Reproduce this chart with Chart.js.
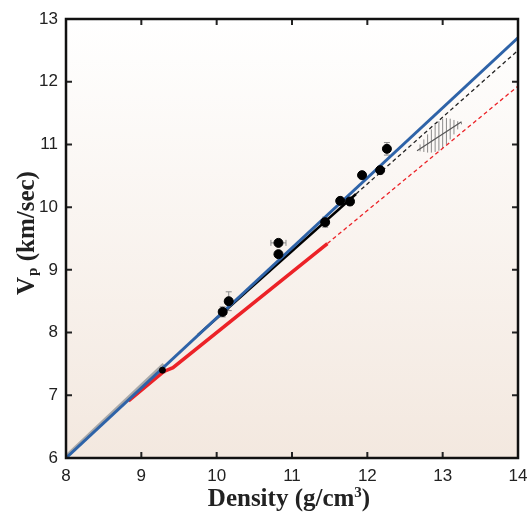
<!DOCTYPE html>
<html>
<head>
<meta charset="utf-8">
<script src="https://cdn.jsdelivr.net/npm/chart.js@4/dist/chart.umd.min.js"></script>
<style>
  html, body { margin: 0; padding: 0; background: #fff; }
  #wrap { width: 532px; height: 513px; }
</style>
</head>
<body>
<div id="wrap"><canvas id="vpChart"></canvas></div>
<script>
// axis ticks
const xTicks = [8, 9, 10, 11, 12, 13, 14];
const yTicks = [6, 7, 8, 9, 10, 11, 12, 13];

// measured points (density, Vp) with error bars
const pointX = [9.28, 10.08, 10.16, 10.82, 10.82, 11.44, 11.64, 11.77, 11.93, 12.17, 12.26];
const pointY = [7.40, 8.33, 8.50, 9.43, 9.25, 9.76, 10.10, 10.09, 10.51, 10.59, 10.93];
const pointXErr = [0.03, 0.05, 0.04, 0.10, 0.04, 0.04, 0.04, 0.04, 0.03, 0.04, 0.04];
const pointYErr = [0.04, 0.08, 0.15, 0.05, 0.05, 0.08, 0.05, 0.06, 0.05, 0.06, 0.10];
const pointSize = [3, 4.5, 4.5, 4.5, 4.5, 4.5, 4.5, 4.5, 4.5, 4.5, 4.5];

// fitted lines
const blueX = [8, 14];
const blueY = [6, 12.70];
const grayX = [8, 9.3];
const grayY = [6.02, 7.49];
const blackX = [9.75, 11.85];
const blackY = [7.96, 10.21];
const blackDashX = [11.85, 14];
const blackDashY = [10.21, 12.50];
const redX = [8.83, 9.30, 9.42, 11.47];
const redY = [6.91, 7.38, 7.44, 9.42];
const redDashX = [11.47, 14];
const redDashY = [9.42, 11.93];

// hatched region near 13 g/cm3
const hatchX = [12.70, 12.75, 12.80, 12.85, 12.90, 12.95, 13.00, 13.05, 13.10, 13.15, 13.20, 13.25];
const hatchLow = [10.89, 10.88, 10.87, 10.87, 10.88, 10.90, 10.94, 11.00, 11.08, 11.16, 11.24, 11.32];
const hatchHigh = [11.00, 11.08, 11.16, 11.24, 11.31, 11.37, 11.41, 11.42, 11.41, 11.39, 11.37, 11.35];
const hatchLineX = [12.66, 13.25];
const hatchLineY = [10.90, 11.36];

const pts = (xs, ys) => xs.map((x, i) => ({ x: x, y: ys[i] }));

const lineSet = (xs, ys, color, width, dash, order) => ({
    data: pts(xs, ys),
    showLine: true,
    borderColor: color,
    borderWidth: width,
    borderDash: dash,
    pointRadius: 0,
    fill: false,
    order: order
});

// draws a label with a raised/lowered small part, centred on 0
function drawRich(ctx, parts) {
    const widths = parts.map(p => { ctx.font = p.font; return ctx.measureText(p.text).width + (p.gap || 0); });
    let sx = -widths.reduce((a, b) => a + b, 0) / 2;
    parts.forEach((p, i) => {
        ctx.font = p.font;
        ctx.fillText(p.text, sx + (p.gap || 0), p.dy || 0);
        sx += widths[i];
    });
}

const framePlugin = {
    id: 'frame',
    beforeDraw(chart) {
        const { ctx, chartArea: a } = chart;
        const g = ctx.createLinearGradient(0, a.top, 0, a.bottom);
        g.addColorStop(0, '#ffffff');
        g.addColorStop(1, '#f3e8df');
        ctx.save();
        ctx.fillStyle = g;
        ctx.fillRect(a.left, a.top, a.right - a.left, a.bottom - a.top);
        ctx.restore();
    },
    beforeDatasetsDraw(chart) {
        const { ctx, scales: { x, y } } = chart;
        ctx.save();
        // hatch strokes
        ctx.strokeStyle = 'rgba(110,110,110,0.8)';
        ctx.lineWidth = 1;
        hatchX.forEach((hx, i) => {
            const px = x.getPixelForValue(hx);
            ctx.beginPath();
            ctx.moveTo(px, y.getPixelForValue(hatchLow[i]));
            ctx.lineTo(px, y.getPixelForValue(hatchHigh[i]));
            ctx.stroke();
        });
        // error bars
        ctx.strokeStyle = '#8a8a8a';
        ctx.lineWidth = 1;
        pointX.forEach((px0, i) => {
            const px = x.getPixelForValue(px0);
            const py = y.getPixelForValue(pointY[i]);
            const y1 = y.getPixelForValue(pointY[i] - pointYErr[i]);
            const y2 = y.getPixelForValue(pointY[i] + pointYErr[i]);
            const x1 = x.getPixelForValue(px0 - pointXErr[i]);
            const x2 = x.getPixelForValue(px0 + pointXErr[i]);
            ctx.beginPath();
            ctx.moveTo(px, y1); ctx.lineTo(px, y2);
            ctx.moveTo(px - 3, y1); ctx.lineTo(px + 3, y1);
            ctx.moveTo(px - 3, y2); ctx.lineTo(px + 3, y2);
            ctx.moveTo(x1, py); ctx.lineTo(x2, py);
            ctx.moveTo(x1, py - 3); ctx.lineTo(x1, py + 3);
            ctx.moveTo(x2, py - 3); ctx.lineTo(x2, py + 3);
            ctx.stroke();
        });
        ctx.restore();
    },
    afterDraw(chart) {
        const { ctx, chartArea: a, scales: { x, y } } = chart;
        ctx.save();
        // inward ticks on all four sides
        ctx.strokeStyle = '#222';
        ctx.lineWidth = 2;
        ctx.beginPath();
        xTicks.slice(1, -1).forEach(v => {
            const px = x.getPixelForValue(v);
            ctx.moveTo(px, a.bottom); ctx.lineTo(px, a.bottom - 6);
            ctx.moveTo(px, a.top); ctx.lineTo(px, a.top + 6);
        });
        yTicks.slice(1, -1).forEach(v => {
            const py = y.getPixelForValue(v);
            ctx.moveTo(a.left, py); ctx.lineTo(a.left + 6, py);
            ctx.moveTo(a.right, py); ctx.lineTo(a.right - 6, py);
        });
        ctx.stroke();
        // frame
        ctx.strokeStyle = '#111';
        ctx.lineWidth = 2.5;
        ctx.strokeRect(a.left, a.top, a.right - a.left, a.bottom - a.top);

        // axis titles
        ctx.fillStyle = '#222';
        ctx.textBaseline = 'alphabetic';
        ctx.textAlign = 'left';
        const big = 'bold 25px "Liberation Serif", "DejaVu Serif", serif';
        const small = 'bold 15px "Liberation Serif", "DejaVu Serif", serif';

        ctx.save();
        ctx.translate(289, 506);
        drawRich(ctx, [
            { text: 'Density (g/cm', font: big },
            { text: '3', font: small, dy: -9 },
            { text: ')', font: big }
        ]);
        ctx.restore();

        ctx.save();
        ctx.translate(34, 233);
        ctx.rotate(-Math.PI / 2);
        drawRich(ctx, [
            { text: 'V', font: big },
            { text: 'p', font: small, dy: 3, gap: 1 },
            { text: ' (km/sec)', font: big }
        ]);
        ctx.restore();
        ctx.restore();
    }
};

new Chart(document.getElementById('vpChart'), {
    type: 'scatter',
    data: {
        datasets: [
            {
                data: pts(pointX, pointY),
                pointRadius: pointSize,
                pointBackgroundColor: '#000',
                pointBorderColor: '#000',
                showLine: false,
                order: 0
            },
            lineSet(blueX, blueY, '#2e63a8', 3, [], 1),
            lineSet(blackX, blackY, '#000', 2.5, [], 2),
            lineSet(blackDashX, blackDashY, '#222', 1.3, [4, 3], 2),
            lineSet(redX, redY, '#ec2227', 3.5, [], 3),
            lineSet(redDashX, redDashY, '#ec2227', 1.3, [4, 3], 3),
            lineSet(grayX, grayY, '#a9a9a9', 4, [], 4),
            lineSet(hatchLineX, hatchLineY, '#555', 1.2, [], 5)
        ]
    },
    options: {
        responsive: true,
        maintainAspectRatio: false,
        animation: false,
        layout: { padding: { top: 19, right: 14, left: 0, bottom: 0 } },
        plugins: {
            legend: { display: false },
            tooltip: { enabled: false }
        },
        scales: {
            x: {
                type: 'linear',
                min: 8,
                max: 14,
                afterBuildTicks: s => { s.ticks = xTicks.map(v => ({ value: v })); },
                afterFit: s => { s.height = 55; s.paddingLeft = 0; s.paddingRight = 0; },
                grid: { display: false, drawTicks: false },
                border: { display: false },
                ticks: {
                    color: '#222',
                    padding: 8,
                    maxRotation: 0,
                    font: { family: '"Liberation Sans", Arial, sans-serif', size: 17 }
                }
            },
            y: {
                type: 'linear',
                min: 6,
                max: 13,
                afterBuildTicks: s => { s.ticks = yTicks.map(v => ({ value: v })); },
                afterFit: s => { s.width = 66; s.paddingTop = 0; s.paddingBottom = 0; },
                grid: { display: false, drawTicks: false },
                border: { display: false },
                ticks: {
                    color: '#222',
                    padding: 8,
                    font: { family: '"Liberation Sans", Arial, sans-serif', size: 17 }
                }
            }
        }
    },
    plugins: [framePlugin]
});
</script>
</body>
</html>
